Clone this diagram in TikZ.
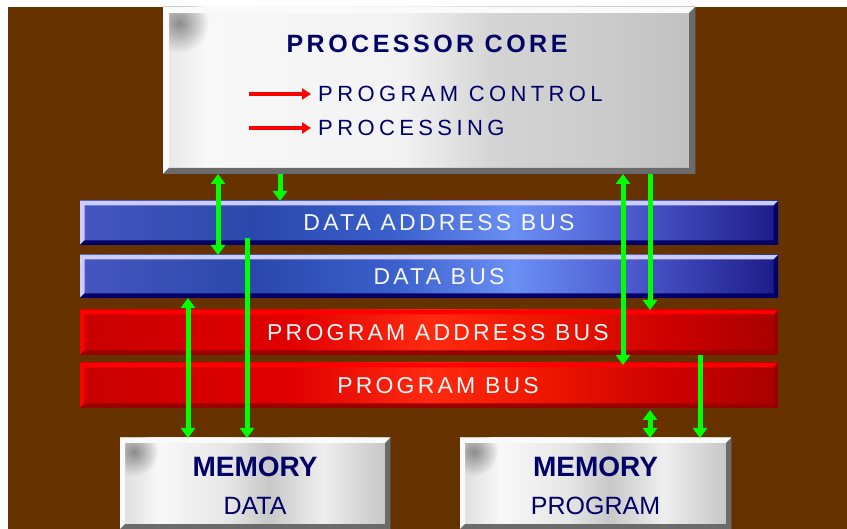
\documentclass[tikz,border=0pt]{standalone}
\usepackage{fontspec}
\setmainfont{Liberation Sans}
\newfontfamily\spacedfont[LetterSpace=14]{Liberation Sans}
\newfontfamily\widefont[LetterSpace=20]{Liberation Sans}
\usetikzlibrary{arrows.meta,calc,fadings}

\definecolor{brownbg}{HTML}{663300}
\definecolor{navytext}{HTML}{000066}
\definecolor{busgreen}{HTML}{00FF00}
% blue bus body
\definecolor{bb0}{HTML}{4656C0}
\definecolor{bb1}{HTML}{2A48AC}
\definecolor{bb2}{HTML}{3A60CC}
\definecolor{bb3}{HTML}{6A90F4}
\definecolor{bb4}{HTML}{4E5CD0}
\definecolor{bb5}{HTML}{1C1C88}
% red bus body
\definecolor{rb0}{HTML}{C80000}
\definecolor{rb1}{HTML}{E00000}
\definecolor{rb2}{HTML}{FF2A10}
\definecolor{rb3}{HTML}{F01800}
\definecolor{rb4}{HTML}{CC0000}
\definecolor{rb5}{HTML}{A80000}
% grey boxes
\definecolor{gc0}{HTML}{E6E6E6}
\definecolor{gc1}{HTML}{F8F8F8}
\definecolor{gc2}{HTML}{F2F2F2}
\definecolor{gc3}{HTML}{D4D4D4}
\definecolor{gc4}{HTML}{CDCDCD}
\definecolor{gc5}{HTML}{C0C0C0}
\definecolor{gm0}{HTML}{DCDCDC}
\definecolor{gm1}{HTML}{F8F8F8}
\definecolor{gm2}{HTML}{E6E6E6}
\definecolor{gm3}{HTML}{C8C8C8}
\definecolor{gm4}{HTML}{EEEEEE}
\definecolor{gm5}{HTML}{C4C4C4}

\pgfdeclarehorizontalshading{busblue}{100bp}{color(0bp)=(bb0); color(25bp)=(bb0);
  color(37.5bp)=(bb1); color(47.5bp)=(bb2); color(56bp)=(bb3); color(64bp)=(bb4);
  color(75bp)=(bb5); color(100bp)=(bb5)}
\pgfdeclarehorizontalshading{busred}{100bp}{color(0bp)=(rb0); color(25bp)=(rb0);
  color(40bp)=(rb1); color(50bp)=(rb2); color(57.5bp)=(rb3); color(67.5bp)=(rb4);
  color(75bp)=(rb5); color(100bp)=(rb5)}
\pgfdeclarehorizontalshading{coregrey}{100bp}{color(0bp)=(gc0); color(25bp)=(gc0);
  color(29bp)=(gc1); color(47.5bp)=(gc2); color(56bp)=(gc3); color(65bp)=(gc4);
  color(75bp)=(gc5); color(100bp)=(gc5)}
\pgfdeclarehorizontalshading{memgrey}{100bp}{color(0bp)=(gm0); color(25bp)=(gm0);
  color(32.5bp)=(gm1); color(45bp)=(gm2); color(52.5bp)=(gm3); color(62.5bp)=(gm4);
  color(75bp)=(gm5); color(100bp)=(gm5)}

\tikzfading[name=cornerfade, inner color=transparent!0, outer color=transparent!100]

% bevelled edges of a box: light on top and left, dark on bottom and right
\newcommand\bevelbox[4]{%
  \fill[#2] (#1.north west) -- (#1.north east) -- ([xshift=-#4,yshift=-#4]#1.north east)
    -- ([xshift=#4,yshift=-#4]#1.north west) -- ([xshift=#4,yshift=#4]#1.south west)
    -- (#1.south west) -- cycle;
  \fill[#3] (#1.south west) -- (#1.south east) -- (#1.north east)
    -- ([xshift=-#4,yshift=-#4]#1.north east) -- ([xshift=-#4,yshift=#4]#1.south east)
    -- ([xshift=#4,yshift=#4]#1.south west) -- cycle;}

\begin{document}
\begin{tikzpicture}[x=1pt,y=-1pt,
  box/.style={inner sep=0pt,outer sep=0pt},
  busbox/.style={box,minimum width=698pt},
  buslabel/.style={font=\spacedfont\fontsize{23pt}{23pt}\selectfont,text=white!94!gray,inner sep=0pt},
  coretitle/.style={font=\spacedfont\bfseries\fontsize{25pt}{25pt}\selectfont,text=navytext,inner sep=0pt},
  coreitem/.style={font=\widefont\fontsize{22pt}{22pt}\selectfont,text=navytext,inner sep=0pt,anchor=west},
  memtitle/.style={font=\bfseries\fontsize{28pt}{28pt}\selectfont,text=navytext,inner sep=0pt},
  memsub/.style={font=\fontsize{25pt}{25pt}\selectfont,text=navytext,inner sep=0pt},
  garrow/.style={draw=busgreen,line width=5pt,-{Triangle[width=14pt,length=10pt]}},
  gboth/.style={garrow,{Triangle[width=14pt,length=10pt]}-{Triangle[width=14pt,length=10pt]}},
  rarrow/.style={draw=red,line width=4pt,-{Triangle[width=11pt,length=9pt]}}]

\useasboundingbox (0,0) rectangle (847,529);
\clip (0,0) rectangle (847,529);

% page: white margin and brown ground
\fill[white] (0,0) rectangle (847,529);
\fill[brownbg] (8,7) rectangle (847,529);

% processor core
\node[box,minimum width=532pt,minimum height=167pt,shading=coregrey] (core) at (429,90.5) {};
\begin{scope}
  \clip (core.south west) rectangle (core.north east);
  \fill[black!45,path fading=cornerfade] ([xshift=16pt,yshift=-16pt]core.north west) circle (30pt);
\end{scope}
\bevelbox{core}{white!96!gray}{black!58}{6pt}
\node[coretitle] (title) at (427,44) {PROCESSOR CORE};
\node[coreitem] (pc) at (318,94) {PROGRAM CONTROL};
\node[coreitem] (proc) at (318,128) {PROCESSING};
\coordinate (pcfrom) at (249,94);
\coordinate (procfrom) at (249,128);
\draw[rarrow,shorten >=7pt] (pcfrom) -- (pc.west);
\draw[rarrow,shorten >=7pt] (procfrom) -- (proc.west);

% buses
\node[busbox,minimum height=44pt,shading=busblue] (dab) at (429,223) {};
\bevelbox{dab}{blue!20!white}{navytext}{4.5pt}
\node[buslabel] at ([xshift=10pt]dab.center) {DATA ADDRESS BUS};

\node[busbox,minimum height=43pt,shading=busblue] (db) at (429,276.5) {};
\bevelbox{db}{blue!20!white}{navytext}{4.5pt}
\node[buslabel] at ([xshift=10pt]db.center) {DATA BUS};

\node[busbox,minimum height=45pt,shading=busred] (pab) at (429,332.5) {};
\bevelbox{pab}{red}{red!60!black}{4.5pt}
\node[buslabel] at ([xshift=9pt]pab.center) {PROGRAM ADDRESS BUS};

\node[busbox,minimum height=45pt,shading=busred] (pb) at (429,385.5) {};
\bevelbox{pb}{red}{red!60!black}{4.5pt}
\node[buslabel] at ([xshift=9pt]pb.center) {PROGRAM BUS};

% memories
\node[box,minimum width=270pt,minimum height=91pt,shading=memgrey] (memd) at (255,483.5) {};
\node[box,minimum width=271pt,minimum height=91pt,shading=memgrey] (memp) at (595.5,483.5) {};
\foreach \m in {memd,memp}{
  \begin{scope}
    \clip (\m.south west) rectangle (\m.north east);
    \fill[black!45,path fading=cornerfade] ([xshift=14pt,yshift=-14pt]\m.north west) circle (24pt);
  \end{scope}
  \bevelbox{\m}{white!96!gray}{black!58}{5pt}
}
\node[memtitle] at ([yshift=-29pt]memd.north) {MEMORY};
\node[memsub] at ([yshift=-68pt]memd.north) {DATA};
\node[memtitle] at ([yshift=-29pt]memp.north) {MEMORY};
\node[memsub] at ([yshift=-68pt]memp.north) {PROGRAM};

% connections
\coordinate (g1) at (218,0);
\coordinate (g2) at (280,0);
\coordinate (g3) at (247,0);
\coordinate (g4) at (188,0);
\coordinate (g5) at (623,0);
\coordinate (g6) at (650,0);
\coordinate (g7) at (700,0);
\draw[gboth] (core.south -| g1) -- (db.north -| g1);
\draw[garrow] (core.south -| g2) -- (dab.north -| g2);
\draw[garrow] ($(dab.south -| g3)+(0,-7)$) -- (memd.north -| g3);
\draw[gboth] (db.south -| g4) -- (memd.north -| g4);
\draw[gboth] (core.south -| g5) -- ($(pb.north -| g5)+(0,2)$);
\draw[garrow] (core.south -| g6) -- (pab.north -| g6);
\draw[garrow] (pab.south -| g7) -- (memp.north -| g7);
\draw[gboth] ($(pb.south -| g6)+(0,2)$) -- (memp.north -| g6);
\end{tikzpicture}
\end{document}
